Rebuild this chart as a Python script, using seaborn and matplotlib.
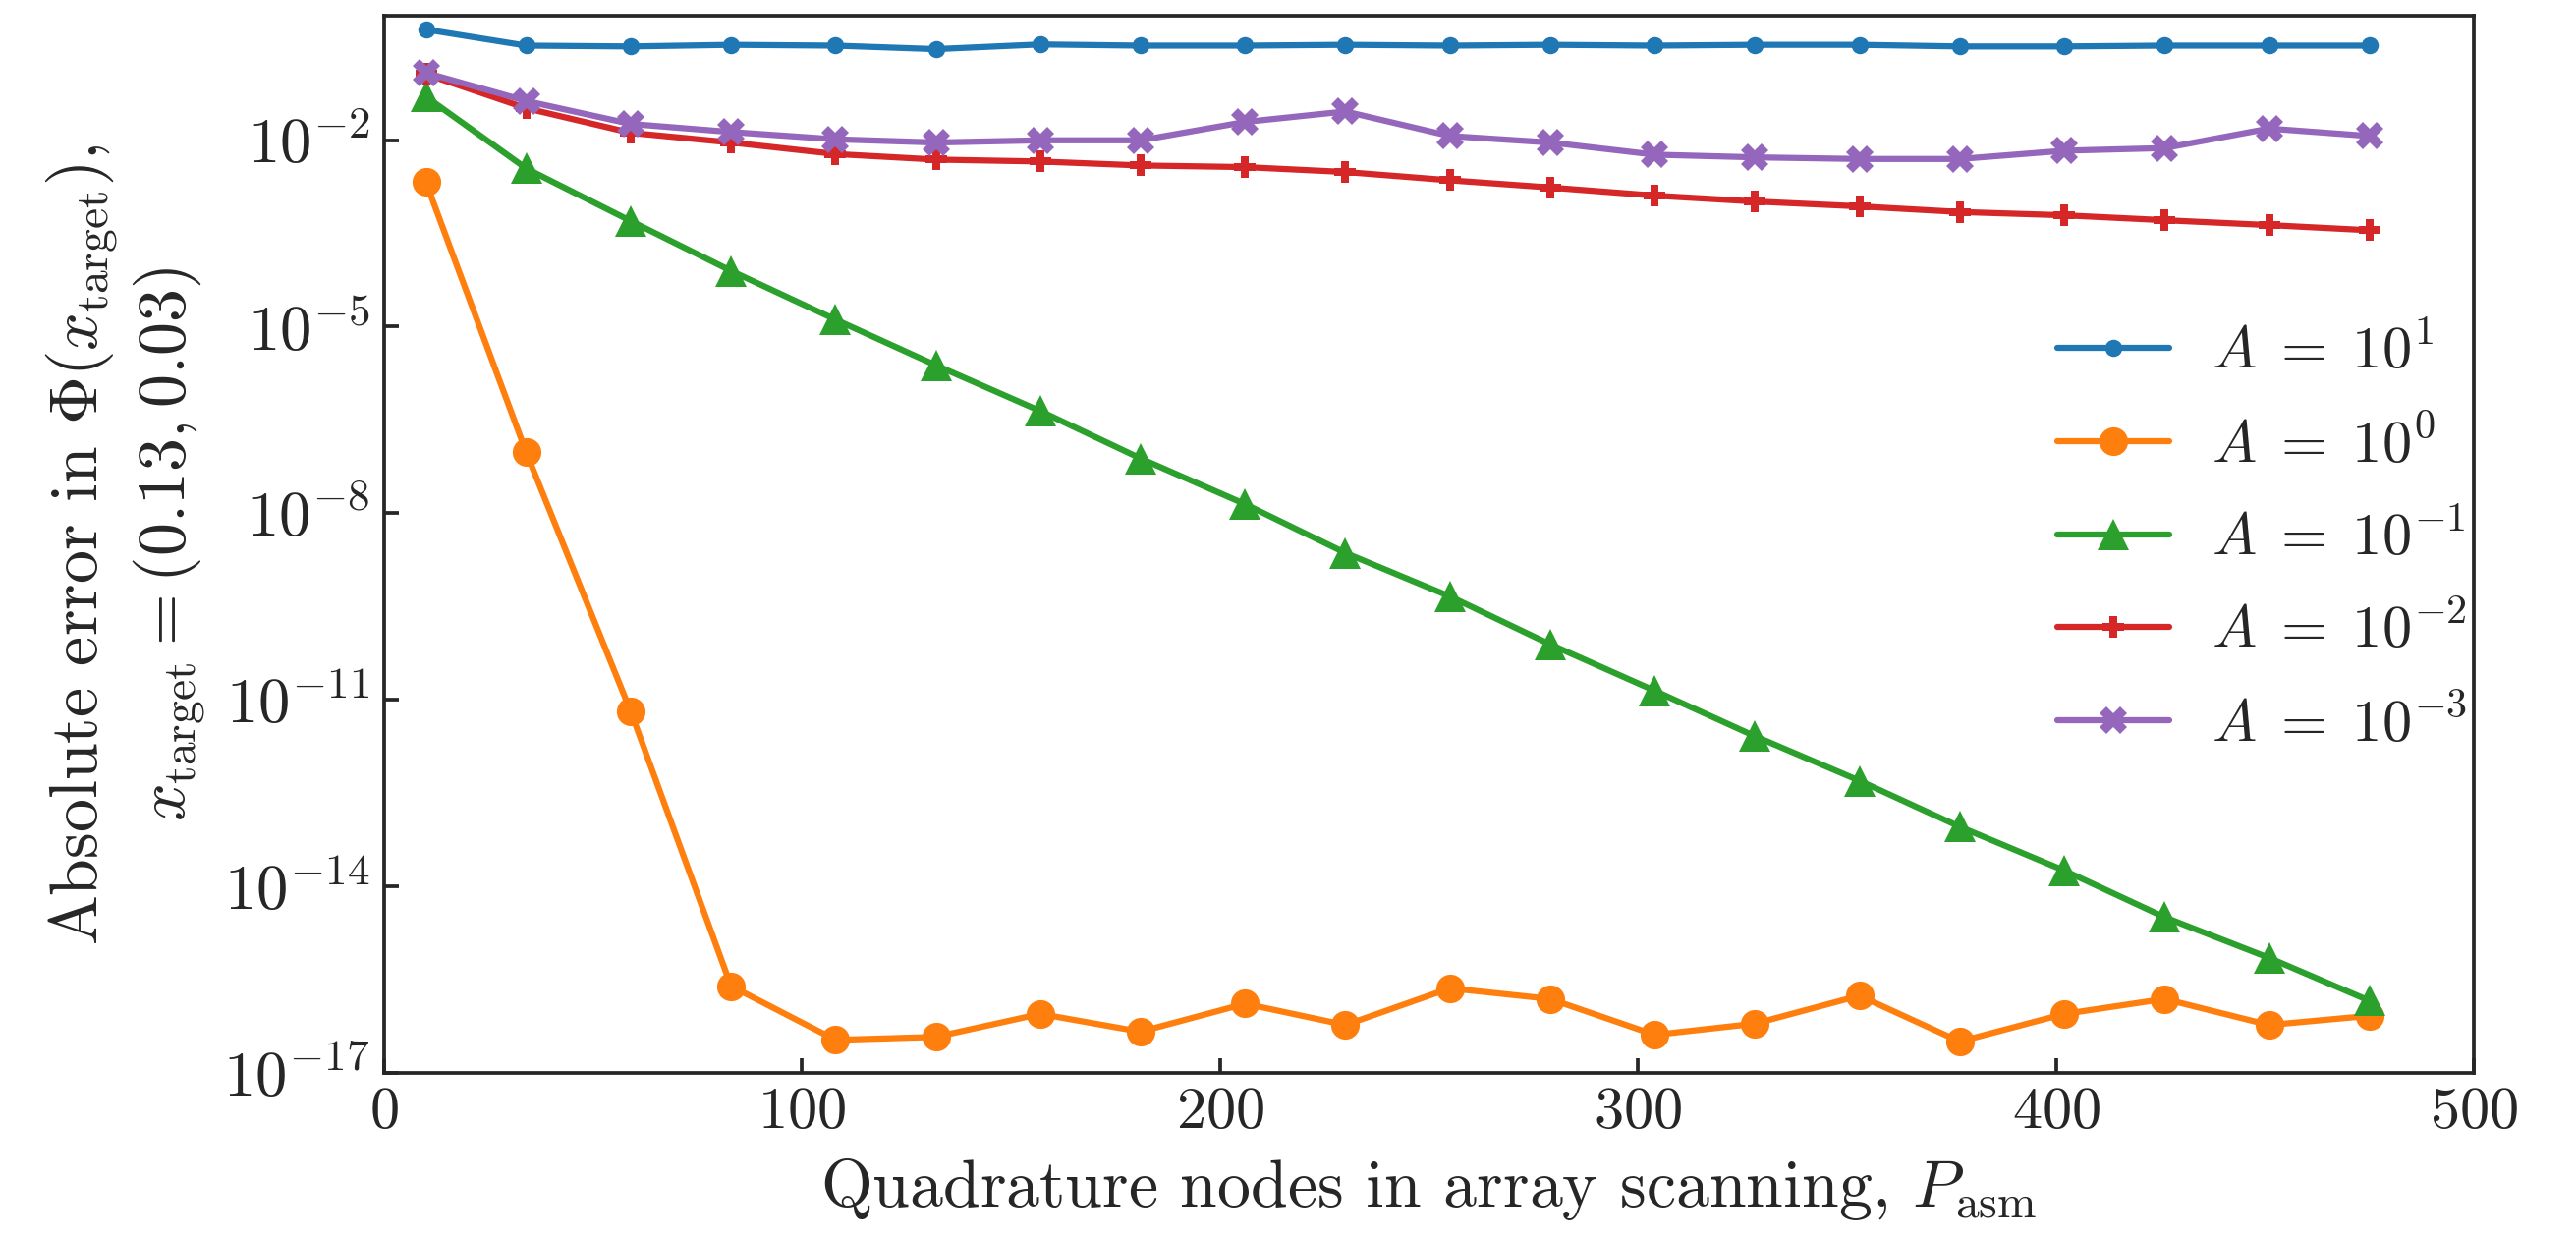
import numpy as np
import pandas as pd
import matplotlib
matplotlib.use("Agg")
import matplotlib.pyplot as plt
import seaborn as sns

# ---- data ----
p_asm = [10, 34, 59, 83, 108, 132, 157, 181, 206, 230, 255, 279, 304, 328, 353, 377, 402, 426, 451, 475]

err_A1e1 = [0.60, 0.33, 0.32, 0.34, 0.33, 0.29, 0.345, 0.33, 0.33, 0.34,
            0.33, 0.34, 0.33, 0.34, 0.34, 0.32, 0.32, 0.33, 0.33, 0.33]
err_A1e0 = [2.1e-3, 9.5e-8, 6.5e-12, 2.5e-16, 3.4e-17, 3.8e-17, 8.9e-17, 4.6e-17, 1.3e-16, 5.9e-17,
            2.3e-16, 1.55e-16, 4.1e-17, 6.2e-17, 1.75e-16, 3.2e-17, 8.9e-17, 1.55e-16, 5.9e-17, 8.3e-17]
err_A1em1 = [5.0e-2, 3.5e-3, 5.0e-4, 7.9e-5, 1.3e-5, 2.4e-6, 4.4e-7, 7.6e-8, 1.4e-8, 2.3e-9,
             4.6e-10, 7.8e-11, 1.4e-11, 2.6e-12, 5.0e-13, 9.1e-14, 1.8e-14, 3.2e-15, 7.1e-16, 1.45e-16]
err_A1em2 = [0.115, 0.0326, 0.0131, 0.00915, 0.00597, 0.00486, 0.00453, 0.00391, 0.00368, 0.00307,
             0.00226, 0.00173, 0.00128, 0.00103, 0.00086, 0.000698, 0.000618, 0.000515, 0.000430, 0.000355]
err_A1em3 = [0.121, 0.0426, 0.0182, 0.0135, 0.0103, 0.00915, 0.00993, 0.00993, 0.0196, 0.0289,
             0.01164, 0.00915, 0.00583, 0.00528, 0.00497, 0.00497, 0.00675, 0.00744, 0.01535, 0.01164]

labels = [r"$A\;=\;10^{1}$", r"$A\;=\;10^{0}$", r"$A\;=\;10^{-1}$", r"$A\;=\;10^{-2}$", r"$A\;=\;10^{-3}$"]
ytick_vals = [1e-17, 1e-14, 1e-11, 1e-8, 1e-5, 1e-2]
xtick_vals = [0, 100, 200, 300, 400, 500]

# ---- style ----
sns.set_style("ticks")
plt.rcParams.update({
    "font.family": ["serif"],
    "font.serif": ["cmr10", "DejaVu Serif"],
    "mathtext.fontset": "cm",
    "axes.formatter.use_mathtext": True,
    "axes.unicode_minus": False,
    "font.size": 15,
    "xtick.direction": "in",
    "ytick.direction": "in",
    "axes.linewidth": 0.9,
})

fig = plt.figure(figsize=(2622 / 300, 1263 / 300), dpi=300)
ax = fig.add_axes([391 / 2622, 171 / 1263, (2518 - 391) / 2622, (1092 - 16) / 1263])

palette = sns.color_palette("tab10")
series = [err_A1e1, err_A1e0, err_A1em1, err_A1em2, err_A1em3]
markers = ["o", "o", "^", "P", "X"]
msizes = [4.2, 7, 7.8, 5.2, 6.5]

for i, (vals, lab, mk, ms) in enumerate(zip(series, labels, markers, msizes)):
    df = pd.DataFrame({"P": p_asm, "err": vals})
    sns.lineplot(data=df, x="P", y="err", ax=ax, color=palette[i], marker=mk,
                 markersize=ms, markeredgewidth=0, linewidth=1.5, label=lab)

ax.set_yscale("log")
ax.set_xlim(0, 500)
ax.set_ylim(1e-17, 1e0)
ax.set_yticks(ytick_vals)
ax.set_xticks(xtick_vals)
ax.yaxis.set_minor_locator(matplotlib.ticker.NullLocator())
ax.tick_params(axis="y", which="major", labelsize=15.5, length=3.5, width=0.9)
ax.tick_params(axis="x", which="major", labelsize=14.5, length=3.5, width=0.9)

ax.set_xlabel(r"Quadrature nodes in array scanning, $P_{\mathrm{asm}}$", fontsize=16.3)
ax.set_ylabel("Absolute error in $\\Phi(x_{\\mathrm{target}})$,\n$x_{\\mathrm{target}} = (0.13, 0.03)$",
              fontsize=16.3, linespacing=1.2)

ax.legend(loc="center left", bbox_to_anchor=(0.775, 0.505), frameon=False, fontsize=14.5,
          handlelength=1.89, handletextpad=0.71, labelspacing=0.63)

fig.savefig("out.png", dpi=300)
